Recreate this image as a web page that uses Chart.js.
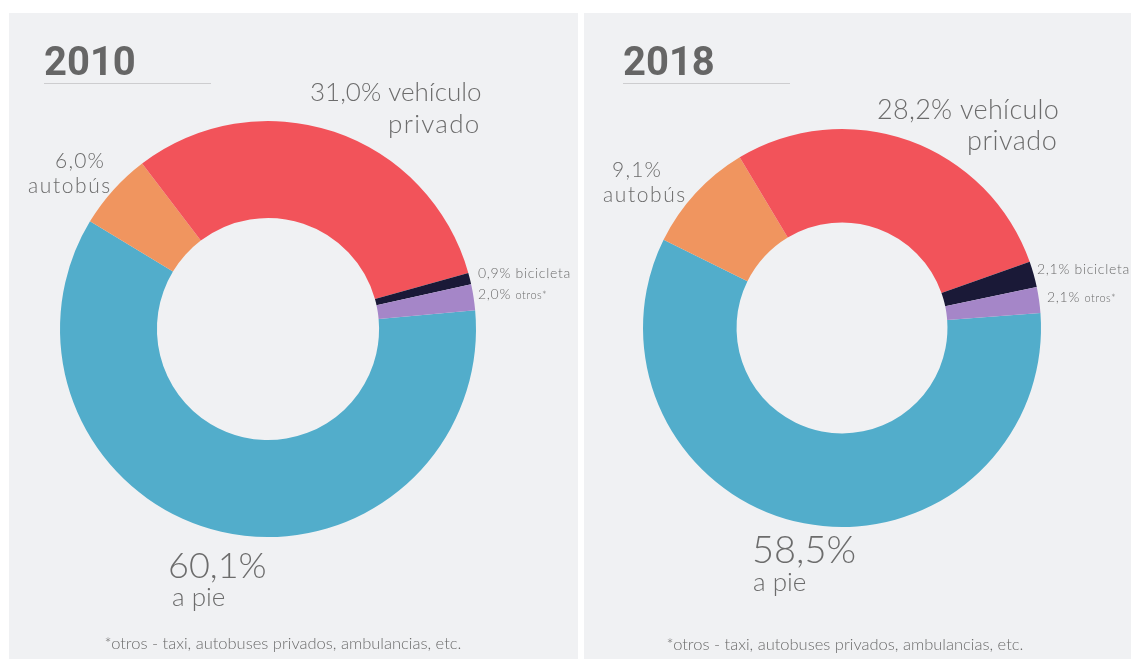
<!DOCTYPE html>
<html>
<head>
<meta charset="utf-8">
<script src="https://cdn.jsdelivr.net/npm/chart.js@4.4.1/dist/chart.umd.min.js"></script>
<style>
  html, body { margin: 0; padding: 0; background: #ffffff; }
  body { width: 1131px; height: 659px; position: relative; overflow: hidden; }
  .panel { position: absolute; top: 13px; height: 646px; background: #f0f1f3; }
  #p1 { left: 9px; width: 569px; }
  #p2 { left: 584px; width: 547px; }
</style>
</head>
<body>
<div class="panel" id="p1"><canvas id="c2010" width="569" height="646"></canvas></div>
<div class="panel" id="p2"><canvas id="c2018" width="547" height="646"></canvas></div>
<script>
const years = ["2010", "2018"];
const categories = ["a pie", "autobús", "vehículo privado", "bicicleta", "otros*"];
const values2010 = [60.1, 6.0, 31.0, 0.9, 2.0];
const values2018 = [58.5, 9.1, 28.2, 2.1, 2.1];
const sliceColors = ["#52adcb", "#f0955f", "#f2535a", "#1a1937", "#a586c8"];
const footnote = "*otros - taxi, autobuses privados, ambulancias, etc.";

const TEXT = "#6c6c6c";
const FONT = "Lato, 'Open Sans', sans-serif";

function pct(v) {
  return v.toFixed(1).replace(".", ",") + "%";
}

// label placement per panel (panel coords); parts are [text, size, spacing]
function labelLayout(vals, right) {
  const w = categories[2].split(" ");
  if (!right) {
    return [
      { x: 301, y: 88, parts: [[pct(vals[2]) + " " + w[0], 26, 0]] },
      { x: 379, y: 120, parts: [[w[1], 26, 1.3]] },
      { x: 46, y: 155, parts: [[pct(vals[1]), 21, 1.2]] },
      { x: 19, y: 180, parts: [[categories[1], 21, 1.6]] },
      { x: 469, y: 265, parts: [[pct(vals[3]) + " " + categories[3], 14, 0.7]] },
      { x: 469, y: 286, parts: [[pct(vals[4]) + " ", 14, 0.7], [categories[4], 11, 0.5]] },
      { x: 159, y: 565, parts: [[pct(vals[0]), 36, 0]] },
      { x: 163, y: 593, parts: [[categories[0], 26, 0]] }
    ];
  }
  return [
    { x: 293, y: 106, parts: [[pct(vals[2]) + " " + w[0], 27, 0.3]] },
    { x: 383, y: 137, parts: [[w[1], 27, 0.5]] },
    { x: 28, y: 164, parts: [[pct(vals[1]), 21, 1.2]] },
    { x: 19, y: 189, parts: [[categories[1], 21, 1.6]] },
    { x: 453, y: 261, parts: [[pct(vals[3]) + " " + categories[3], 14, 0.7]] },
    { x: 463, y: 289, parts: [[pct(vals[4]) + " ", 14, 0.7], [categories[4], 11, 0.5]] },
    { x: 168, y: 550, parts: [[pct(vals[0]), 38, 0]] },
    { x: 169, y: 578, parts: [[categories[0], 26, 0]] }
  ];
}

const textPlugin = {
  id: "panelText",
  afterDraw(chart, args, opts) {
    const ctx = chart.ctx;
    ctx.save();
    // title
    ctx.fillStyle = "#666666";
    ctx.font = "bold 40px Roboto, sans-serif";
    ctx.textAlign = "left";
    ctx.textBaseline = "alphabetic";
    ctx.fillText(opts.title, opts.tx, 62);
    ctx.strokeStyle = "#cdcdcf";
    ctx.lineWidth = 1;
    ctx.beginPath();
    ctx.moveTo(opts.tx, 70.5);
    ctx.lineTo(opts.tx + 167, 70.5);
    ctx.stroke();
    // labels
    ctx.fillStyle = TEXT;
    opts.labels.forEach((l) => {
      let x = l.x;
      l.parts.forEach(([t, s, sp]) => {
        ctx.font = "300 " + s + "px " + FONT;
        ctx.letterSpacing = sp + "px";
        ctx.fillText(t, x, l.y);
        x += ctx.measureText(t).width;
      });
    });
    // footnote
    ctx.letterSpacing = "0px";
    ctx.textAlign = "center";
    ctx.font = "300 " + opts.fnSize + "px " + FONT;
    ctx.fillText(footnote, opts.fnx, opts.fny);
    ctx.restore();
  }
};

function makeDonut(id, vals, cfg) {
  new Chart(document.getElementById(id), {
    type: "doughnut",
    data: {
      labels: categories,
      datasets: [{
        data: vals,
        backgroundColor: sliceColors,
        borderWidth: 0
      }]
    },
    options: {
      responsive: false,
      animation: false,
      devicePixelRatio: 1,
      rotation: cfg.rotation,
      cutout: cfg.cutout,
      layout: { padding: cfg.padding },
      plugins: {
        legend: { display: false },
        tooltip: { enabled: false },
        panelText: {
          title: cfg.title,
          tx: cfg.tx,
          labels: labelLayout(vals, cfg.right),
          fnx: cfg.fnx,
          fny: cfg.fny,
          fnSize: cfg.fnSize
        }
      }
    },
    plugins: [textPlugin]
  });
}

makeDonut("c2010", values2010, {
  title: years[0], tx: 35, right: false,
  rotation: 84.8, cutout: "53.4%",
  padding: { left: 51, right: 102, top: 108, bottom: 122 },
  fnx: 274, fny: 636, fnSize: 16.5
});

makeDonut("c2018", values2018, {
  title: years[1], tx: 39, right: true,
  rotation: 85.7, cutout: "53%",
  padding: { left: 59, right: 90, top: 116, bottom: 132 },
  fnx: 261, fny: 637, fnSize: 16.5
});
</script>
</body>
</html>
